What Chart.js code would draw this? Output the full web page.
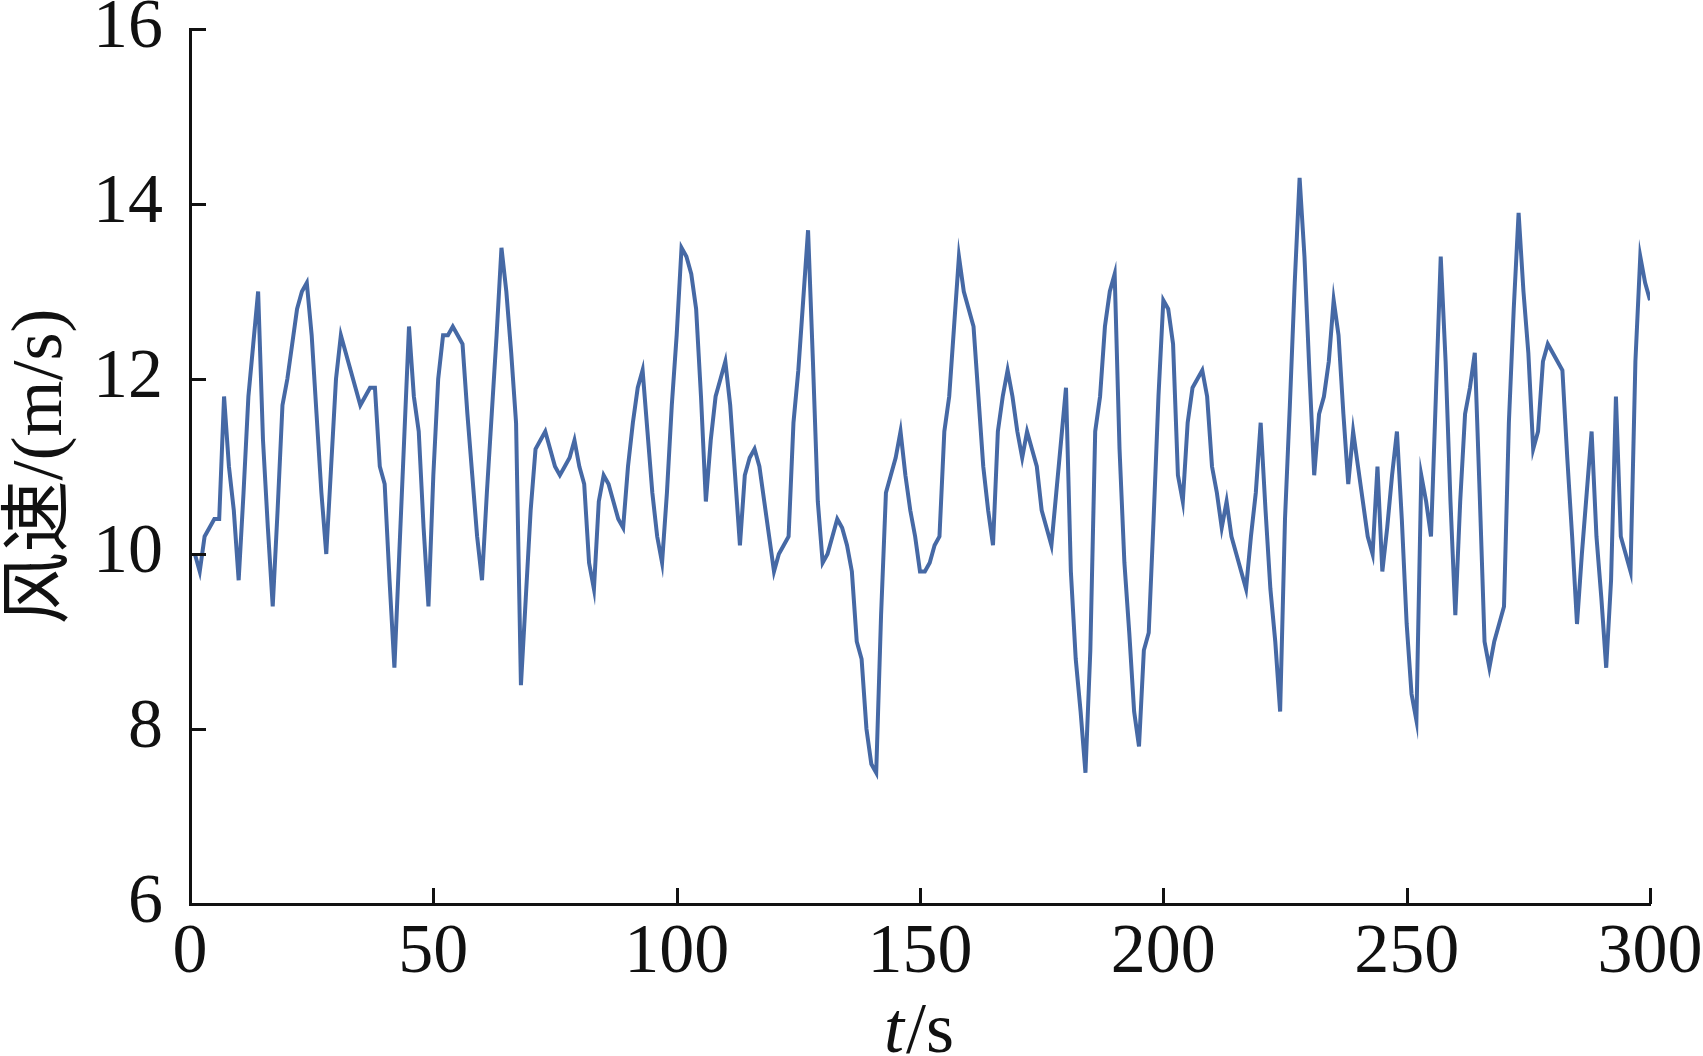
<!DOCTYPE html>
<html><head><meta charset="utf-8">
<script src="https://cdn.jsdelivr.net/npm/chart.js@4/dist/chart.umd.min.js"></script>
<style>html,body{margin:0;padding:0;background:#fff;overflow:hidden}#wrap{width:1703px;height:1056px}</style>
</head><body><div id="wrap"><canvas id="c" width="1703" height="1056"></canvas></div>
<script>
// Wind speed (m/s), one sample per second, t = 1..300 s
const windSpeed = [
  10.0, 9.8,10.2,10.3,10.4,10.4,11.8,11.0,10.5, 9.7,
  10.7,11.8,12.4,13.0,11.3,10.3, 9.4,10.5,11.7,12.0,
  12.4,12.8,13.0,13.1,12.5,11.6,10.7,10.0,11.0,12.0,
  12.5,12.3,12.1,11.9,11.7,11.8,11.9,11.9,11.0,10.8,
   9.7, 8.7,10.0,11.3,12.6,11.8,11.4,10.3, 9.4,10.9,
  12.0,12.5,12.5,12.6,12.5,12.4,11.6,10.9,10.2, 9.7,
  10.7,11.6,12.5,13.5,13.0,12.3,11.5, 8.5, 9.5,10.5,
  11.2,11.3,11.4,11.2,11.0,10.9,11.0,11.1,11.3,11.0,
  10.8, 9.9, 9.6,10.6,10.9,10.8,10.6,10.4,10.3,11.0,
  11.5,11.9,12.1,11.4,10.7,10.2, 9.9,10.7,11.7,12.5,
  13.5,13.4,13.2,12.8,11.8,10.6,11.3,11.8,12.0,12.2,
  11.7,10.9,10.1,10.9,11.1,11.2,11.0,10.6,10.2, 9.8,
  10.0,10.1,10.2,11.5,12.1,12.9,13.7,12.2,10.6, 9.9,
  10.0,10.2,10.4,10.3,10.1, 9.8, 9.0, 8.8, 8.0, 7.6,
   7.5, 9.3,10.7,10.9,11.1,11.4,10.9,10.5,10.2, 9.8,
   9.8, 9.9,10.1,10.2,11.4,11.8,12.6,13.4,13.0,12.8,
  12.6,11.8,11.0,10.5,10.1,11.4,11.8,12.1,11.8,11.4,
  11.1,11.4,11.2,11.0,10.5,10.3,10.1,10.7,11.3,11.9,
   9.8, 8.8, 8.2, 7.5, 8.9,11.4,11.8,12.6,13.0,13.2,
  11.2, 9.9, 9.1, 8.2, 7.8, 8.9, 9.1,10.4,11.8,12.9,
  12.8,12.4,10.9,10.6,11.5,11.9,12.0,12.1,11.8,11.0,
  10.7,10.3,10.6,10.2,10.0, 9.8, 9.6,10.2,10.7,11.5,
  10.5, 9.6, 9.0, 8.2,10.4,11.7,13.1,14.3,13.4,12.1,
  10.9,11.6,11.8,12.2,12.9,12.5,11.6,10.8,11.4,11.0,
  10.6,10.2,10.0,11.0, 9.8,10.3,10.9,11.4,10.4, 9.2,
   8.4, 8.1,10.9,10.6,10.2,11.8,13.4,12.2,10.6, 9.3,
  10.6,11.6,11.9,12.3,10.7, 9.0, 8.7, 9.0, 9.2, 9.4,
  11.5,12.8,13.9,13.0,12.3,11.2,11.4,12.2,12.4,12.3,
  12.2,12.1,11.1,10.2, 9.2,10.0,10.7,11.4,10.2, 9.5,
   8.7, 9.7,11.8,10.2,10.0, 9.8,12.2,13.4,13.1,12.9
];
const sampleInterval = 1; // s
const times = windSpeed.map((_, i) => (i + 1) * sampleInterval);
const xTickValues = [0, 50, 100, 150, 200, 250, 300];
const yTickValues = [6, 8, 10, 12, 14, 16];
const yTitleText = '风速/(m/s)';
const xTitleVar = 't';
const xTitleUnit = '/s';

const axisColor = '#111';
const lineColor = '#4669a5';
const serif = '"Liberation Serif", "Times New Roman", serif';
const serifCJK = '"Liberation Serif", "Noto Sans CJK SC", serif';

const decorations = {
  id: 'decorations',
  afterDraw(chart) {
    const {ctx, chartArea: a, scales: {x, y}} = chart;
    ctx.save();
    ctx.strokeStyle = axisColor;
    ctx.lineWidth = 3;
    ctx.beginPath();
    for (const v of yTickValues) {
      const py = Math.round(y.getPixelForValue(v)) + 0.5;
      ctx.moveTo(a.left, py); ctx.lineTo(a.left + 16, py);
    }
    for (const v of xTickValues) {
      const px = Math.round(x.getPixelForValue(v)) + 0.5;
      ctx.moveTo(px, a.bottom); ctx.lineTo(px, a.bottom - 16);
    }
    ctx.stroke();
    // x-axis title: italic t + upright /s
    ctx.fillStyle = axisColor;
    ctx.textBaseline = 'alphabetic';
    const fItal = 'italic 72px ' + serif;
    const fReg = '72px ' + serif;
    ctx.font = fItal; const w1 = ctx.measureText(xTitleVar).width;
    ctx.font = fReg; const w2 = ctx.measureText(xTitleUnit).width;
    const cx = (a.left + a.right) / 2 - 2;
    const x0 = cx - (w1 + w2) / 2;
    const base = 1052;
    ctx.font = fItal; ctx.fillText(xTitleVar, x0, base);
    ctx.font = fReg; ctx.fillText(xTitleUnit, x0 + w1 + 2, base);
    ctx.restore();
  }
};

new Chart(document.getElementById('c'), {
  type: 'line',
  data: {
    datasets: [{
      data: times.map((t, i) => ({x: t, y: windSpeed[i]})),
      borderColor: lineColor,
      borderWidth: 4,
      pointRadius: 0,
      tension: 0,
      fill: false
    }]
  },
  options: {
    responsive: false,
    animation: false,
    devicePixelRatio: 1,
    layout: {padding: {top: 29, right: 53, left: 0, bottom: 0}},
    plugins: {legend: {display: false}, tooltip: {enabled: false}},
    scales: {
      x: {
        type: 'linear', min: 0, max: 300,
        afterBuildTicks: s => { s.ticks = xTickValues.map(v => ({value: v})); },
        afterFit: s => { s.height = 152; },
        grid: {display: false},
        border: {display: true, color: axisColor, width: 3},
        ticks: {color: axisColor, font: {family: serif, size: 70, lineHeight: 1.2}, padding: 0, maxRotation: 0, autoSkip: false}
      },
      y: {
        type: 'linear', min: 6, max: 16,
        afterBuildTicks: s => { s.ticks = yTickValues.map(v => ({value: v})); },
        afterFit: s => { s.width = 190; },
        grid: {display: false},
        border: {display: true, color: axisColor, width: 3},
        ticks: {color: axisColor, font: {family: serif, size: 70, lineHeight: 0.25}, padding: 19},
        title: {display: true, text: yTitleText, color: axisColor, font: {family: serifCJK, size: 72, lineHeight: 1.1}, padding: {top: 2, bottom: 0}}
      }
    }
  },
  plugins: [decorations]
});
</script></body></html>
